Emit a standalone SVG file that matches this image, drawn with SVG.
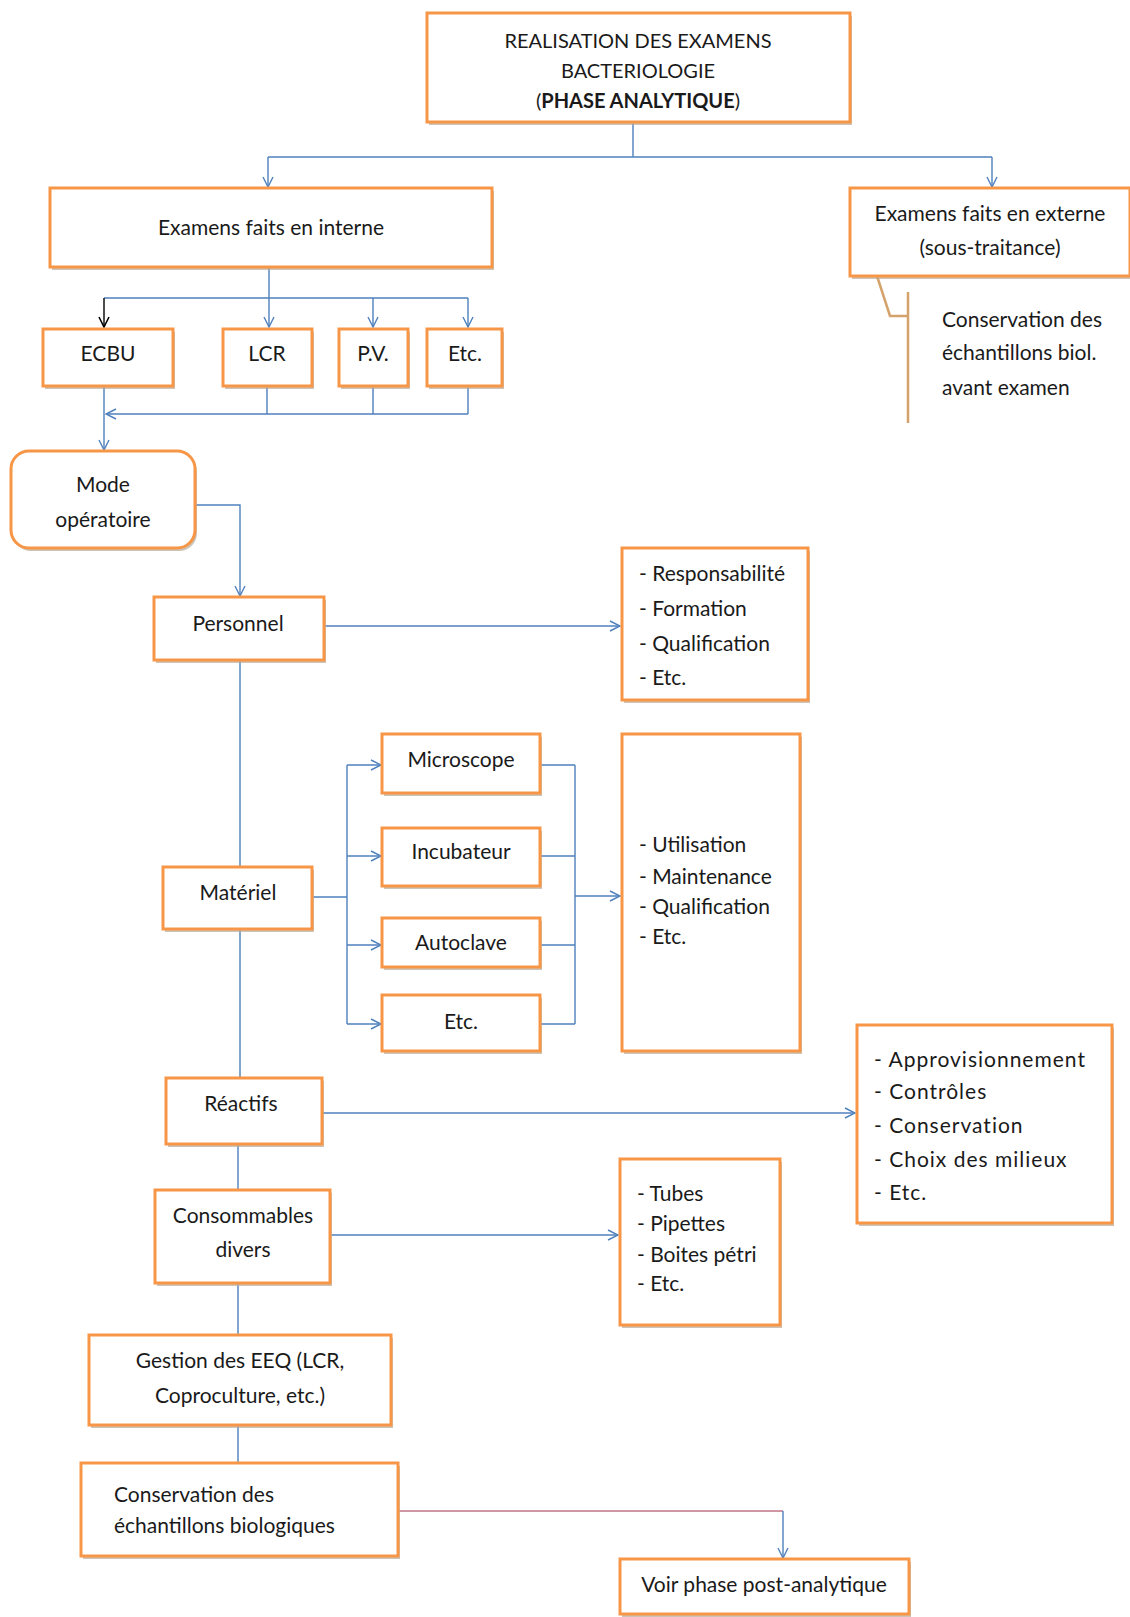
<svg xmlns="http://www.w3.org/2000/svg" width="1130" height="1617" viewBox="0 0 1130 1617">
<defs>
<style>
.b{fill:#fff;stroke:#F79646;stroke-width:3}
.sh{fill:#b8ab98;opacity:0.7}
.t{font-family:Lato,"Open Sans","Liberation Sans",sans-serif;font-size:21px;fill:#1a1a1a}
.s20{font-size:20px}
.ls{letter-spacing:1px}
.c{text-anchor:middle}
.cn{fill:none;stroke:#4F81BD;stroke-width:1.4}
.k{fill:none;stroke:#000;stroke-width:1.4}
.br{fill:none;stroke:#D4A26A;stroke-width:2.5}
.pk{fill:none;stroke:#C07384;stroke-width:1.6}
</style>
<marker id="a" viewBox="0 0 12 12" refX="11" refY="6" markerWidth="12" markerHeight="12" markerUnits="userSpaceOnUse" orient="auto">
<path d="M1,1 L11,6 L1,11" fill="none" stroke="#4F81BD" stroke-width="1.4"/>
</marker>
<marker id="ak" viewBox="0 0 12 12" refX="11" refY="6" markerWidth="12" markerHeight="12" markerUnits="userSpaceOnUse" orient="auto">
<path d="M1,1 L11,6 L1,11" fill="none" stroke="#000" stroke-width="1.6"/>
</marker>
</defs>
<rect width="1130" height="1617" fill="#fff"/>

<g id="connectors">
<path class="cn" d="M633,122 V157 M268,157 H992"/>
<path class="cn" d="M268,157 V187" marker-end="url(#a)"/>
<path class="cn" d="M992,157 V187" marker-end="url(#a)"/>
<path class="cn" d="M269,267 V298 M104,298 H468"/>
<path class="k" d="M104,298 V327" marker-end="url(#ak)"/>
<path class="cn" d="M269,298 V327" marker-end="url(#a)"/>
<path class="cn" d="M373,298 V327" marker-end="url(#a)"/>
<path class="cn" d="M468,298 V327" marker-end="url(#a)"/>
<path class="cn" d="M267,386 V414 M373,386 V414 M468,386 V414"/>
<path class="cn" d="M468,414 H106" marker-end="url(#a)"/>
<path class="cn" d="M104,386 V450" marker-end="url(#a)"/>
<path class="cn" d="M195,505 H240 V596" marker-end="url(#a)"/>
<path class="cn" d="M324,626 H620" marker-end="url(#a)"/>
<path class="cn" d="M240,660 V867 M240,929 V1078"/>
<path class="cn" d="M312,897 H347 M347,765 V1024"/>
<path class="cn" d="M347,765 H381" marker-end="url(#a)"/>
<path class="cn" d="M347,856 H381" marker-end="url(#a)"/>
<path class="cn" d="M347,945 H381" marker-end="url(#a)"/>
<path class="cn" d="M347,1024 H381" marker-end="url(#a)"/>
<path class="cn" d="M540,765 H575 M540,856 H575 M540,945 H575 M540,1024 H575 M575,765 V1024"/>
<path class="cn" d="M575,896 H620" marker-end="url(#a)"/>
<path class="cn" d="M322,1113 H855" marker-end="url(#a)"/>
<path class="cn" d="M238,1144 V1190"/>
<path class="cn" d="M330,1235 H618" marker-end="url(#a)"/>
<path class="cn" d="M238,1283 V1335 M238,1425 V1463"/>
<path class="pk" d="M398,1511 H783"/>
<path class="cn" d="M783,1511 V1558" marker-end="url(#a)"/>
<path class="br" d="M877,276 L890,316 H908 M908,292 V423"/>
</g>

<g id="n-top">
<rect class="sh" x="429" y="16" width="423" height="109"/>
<rect class="b" x="427" y="13" width="423" height="109"/>
<text class="t s20 c" x="638" y="48">REALISATION DES EXAMENS</text>
<text class="t s20 c" x="638" y="78">BACTERIOLOGIE</text>
<text class="t s20 c" x="638" y="108">(<tspan font-weight="bold">PHASE ANALYTIQUE</tspan>)</text>
</g>
<g id="n-interne">
<rect class="sh" x="52" y="191" width="442" height="79"/>
<rect class="b" x="50" y="188" width="442" height="79"/>
<text class="t c" x="271" y="235">Examens faits en interne</text>
</g>
<g id="n-externe">
<rect class="sh" x="852" y="191" width="278" height="88"/>
<rect class="b" x="850" y="188" width="280" height="88"/>
<text class="t c" x="990" y="221">Examens faits en externe</text>
<text class="t c" x="990" y="255">(sous-traitance)</text>
</g>
<g id="n-callout">
<text class="t" x="942" y="327">Conservation des</text>
<text class="t" x="942" y="360">échantillons biol.</text>
<text class="t" x="942" y="395">avant examen</text>
</g>
<g id="n-ecbu">
<rect class="sh" x="45" y="332" width="130" height="57"/>
<rect class="b" x="43" y="329" width="130" height="57"/>
<text class="t c" x="108" y="361">ECBU</text>
</g>
<g id="n-lcr">
<rect class="sh" x="225" y="332" width="89" height="57"/>
<rect class="b" x="223" y="329" width="89" height="57"/>
<text class="t c" x="267" y="361">LCR</text>
</g>
<g id="n-pv">
<rect class="sh" x="341" y="332" width="69" height="57"/>
<rect class="b" x="339" y="329" width="69" height="57"/>
<text class="t c" x="373" y="361">P.V.</text>
</g>
<g id="n-etc1">
<rect class="sh" x="429" y="332" width="75" height="57"/>
<rect class="b" x="427" y="329" width="75" height="57"/>
<text class="t c" x="465" y="361">Etc.</text>
</g>
<g id="n-mode">
<rect class="sh" x="13" y="454" width="184" height="97" rx="18"/>
<rect class="b" x="11" y="451" width="184" height="97" rx="18"/>
<text class="t c" x="103" y="492">Mode</text>
<text class="t c" x="103" y="527">opératoire</text>
</g>
<g id="n-personnel">
<rect class="sh" x="156" y="600" width="170" height="63"/>
<rect class="b" x="154" y="597" width="170" height="63"/>
<text class="t c" x="238" y="631">Personnel</text>
</g>
<g id="n-resp">
<rect class="sh" x="624" y="551" width="186" height="152"/>
<rect class="b" x="622" y="548" width="186" height="152"/>
<text class="t" x="639" y="581">- Responsabilité</text>
<text class="t" x="639" y="616">- Formation</text>
<text class="t" x="639" y="651">- Qualification</text>
<text class="t" x="639" y="685">- Etc.</text>
</g>
<g id="n-materiel">
<rect class="sh" x="165" y="870" width="149" height="62"/>
<rect class="b" x="163" y="867" width="149" height="62"/>
<text class="t c" x="238" y="900">Matériel</text>
</g>
<g id="n-micro">
<rect class="sh" x="384" y="737" width="158" height="59"/>
<rect class="b" x="382" y="734" width="158" height="59"/>
<text class="t c" x="461" y="767">Microscope</text>
</g>
<g id="n-incub">
<rect class="sh" x="384" y="831" width="158" height="58"/>
<rect class="b" x="382" y="828" width="158" height="58"/>
<text class="t c" x="461" y="859">Incubateur</text>
</g>
<g id="n-auto">
<rect class="sh" x="384" y="921" width="158" height="49"/>
<rect class="b" x="382" y="918" width="158" height="49"/>
<text class="t c" x="461" y="950">Autoclave</text>
</g>
<g id="n-etc2">
<rect class="sh" x="384" y="998" width="158" height="56"/>
<rect class="b" x="382" y="995" width="158" height="56"/>
<text class="t c" x="461" y="1029">Etc.</text>
</g>
<g id="n-util">
<rect class="sh" x="624" y="737" width="178" height="317"/>
<rect class="b" x="622" y="734" width="178" height="317"/>
<text class="t" x="639" y="852">- Utilisation</text>
<text class="t" x="639" y="884">- Maintenance</text>
<text class="t" x="639" y="914">- Qualification</text>
<text class="t" x="639" y="944">- Etc.</text>
</g>
<g id="n-reactifs">
<rect class="sh" x="168" y="1081" width="156" height="66"/>
<rect class="b" x="166" y="1078" width="156" height="66"/>
<text class="t c" x="241" y="1111">Réactifs</text>
</g>
<g id="n-appro">
<rect class="sh" x="859" y="1028" width="255" height="198"/>
<rect class="b" x="857" y="1025" width="255" height="198"/>
<text class="t ls" x="874" y="1067">- Approvisionnement</text>
<text class="t ls" x="874" y="1099">- Contrôles</text>
<text class="t ls" x="874" y="1133">- Conservation</text>
<text class="t ls" x="874" y="1167">- Choix des milieux</text>
<text class="t ls" x="874" y="1200">- Etc.</text>
</g>
<g id="n-conso">
<rect class="sh" x="157" y="1193" width="175" height="93"/>
<rect class="b" x="155" y="1190" width="175" height="93"/>
<text class="t c" x="243" y="1223">Consommables</text>
<text class="t c" x="243" y="1257">divers</text>
</g>
<g id="n-tubes">
<rect class="sh" x="622" y="1162" width="160" height="166"/>
<rect class="b" x="620" y="1159" width="160" height="166"/>
<text class="t" x="637" y="1201">- Tubes</text>
<text class="t" x="637" y="1231">- Pipettes</text>
<text class="t" x="637" y="1262">- Boites pétri</text>
<text class="t" x="637" y="1291">- Etc.</text>
</g>
<g id="n-gestion">
<rect class="sh" x="91" y="1338" width="302" height="90"/>
<rect class="b" x="89" y="1335" width="302" height="90"/>
<text class="t c" x="240" y="1368">Gestion des EEQ (LCR,</text>
<text class="t c" x="240" y="1403">Coproculture, etc.)</text>
</g>
<g id="n-conserv">
<rect class="sh" x="83" y="1466" width="317" height="93"/>
<rect class="b" x="81" y="1463" width="317" height="93"/>
<text class="t" x="114" y="1502">Conservation des</text>
<text class="t" x="114" y="1533">échantillons biologiques</text>
</g>
<g id="n-voir">
<rect class="sh" x="622" y="1562" width="289" height="55"/>
<rect class="b" x="620" y="1559" width="289" height="55"/>
<text class="t c" x="764" y="1592">Voir phase post-analytique</text>
</g>
</svg>
